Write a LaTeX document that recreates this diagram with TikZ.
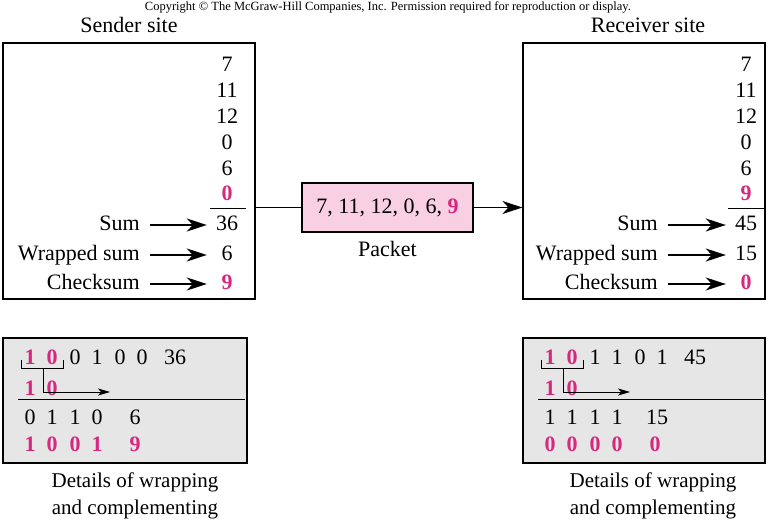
\documentclass[tikz,border=0pt]{standalone}
\usepackage{fontspec}
\setmainfont{Liberation Serif}
\usetikzlibrary{arrows.meta, positioning}
\definecolor{chkpink}{HTML}{D6287F}
\definecolor{pktfill}{HTML}{F8CFE3}
\definecolor{detailgray}{HTML}{E6E6E6}

\begin{document}
\begin{tikzpicture}[x=1pt, y=-1pt, font=\fontsize{22}{26}\selectfont,
  arr/.style={-{Stealth[length=20pt, width=13pt, inset=6pt]}, line width=1.8pt},
  site/.style={draw, line width=1.2pt, minimum width=252, minimum height=256, inner sep=0pt},
  detail/.style={draw, line width=1.2pt, fill=detailgray, minimum width=244, minimum height=125, inner sep=0pt},
  txt/.style={inner sep=0pt, text height=15.5pt, text depth=5pt},
  num/.style={txt, minimum width=36},
  lbl/.style={txt, anchor=east},
  hl/.style={text=chkpink, font=\fontsize{22}{26}\selectfont\bfseries},
  caption/.style={align=center, font=\fontsize{21}{27}\selectfont, inner sep=0pt}]
\useasboundingbox (0,0) rectangle (777,522);

% ---- titles -------------------------------------------------------------
\node[font=\fontsize{12.5}{14}\selectfont] (copy) at (388,7)
  {Copyright \textcopyright{} The McGraw-Hill Companies, Inc. Permission required for reproduction or display.};
\node[txt] (sendtitle) at (129,27) {Sender site};
\node[txt] (recvtitle) at (648,27) {Receiver site};

% ---- the two sites ------------------------------------------------------
\node[site] (sender) at (129,171) {};
\node[site, minimum width=242] (receiver) at (644,171) {};

\foreach \v/\y [count=\k] in {7/66, 11/92, 12/118, 0/144, 6/170} {
  \node[num] (s\k) at (227,\y) {\v};
  \node[num] (r\k) at (746,\y) {\v};
}
\node[num, hl] (s6) at (227,195) {0};
\node[num, hl] (r6) at (746,195) {9};
\draw[line width=1pt] (210,208) -- (246,208);
\draw[line width=1pt] (728,208) -- (765,208);

\node[num] (ssum) at (227,225) {36};
\node[num] (swrap) at (227,255) {6};
\node[num, hl] (schk) at (227,284) {9};
\node[num] (rsum) at (746,225) {45};
\node[num] (rwrap) at (746,255) {15};
\node[num, hl] (rchk) at (746,284) {0};

\foreach \n/\t/\y in {sum/Sum/225, wrap/Wrapped sum/255, chk/Checksum/284} {
  \node[lbl] (sl\n) at (140,\y) {\t};
  \node[lbl] (rl\n) at (658,\y) {\t};
  \draw[arr, shorten <=10pt, shorten >=2pt] (sl\n) -- (s\n);
  \draw[arr, shorten <=10pt, shorten >=2pt] (rl\n) -- (r\n);
}

% ---- packet -------------------------------------------------------------
\node[draw, line width=2.5pt, fill=pktfill, minimum width=171, minimum height=49, inner sep=0pt]
  (packet) at (387.5,207.5) {7, 11, 12, 0, 6, \textcolor{chkpink}{\textbf{9}}};
\node[txt, below=8pt of packet] (pktlbl) {Packet};
\draw[line width=1.5pt] (packet.west -| sender.east) -- (packet.west);
\draw[arr, line width=1.5pt] (packet.east) -- (packet.east -| receiver.west);

% ---- details of wrapping and complementing ------------------------------
\node[detail] (sdetail) at (125,400.5) {};
\node[detail, minimum width=242] (rdetail) at (644,400.5) {};

\foreach \d/\x/\st [count=\k] in {1/30/hl, 0/52/hl, 0/75/txt, 1/97/txt, 0/120/txt, 0/142/txt}
  \node[txt, \st] (sa\k) at (\x,359) {\d};
\node[txt] (sa7) at (175,359) {36};
\foreach \d/\x [count=\k] in {1/30, 0/52}
  \node[txt, hl] (sb\k) at (\x,390) {\d};
\foreach \d/\x [count=\k] in {0/30, 1/52, 1/75, 0/97, 6/135}
  \node[txt] (sc\k) at (\x,419) {\d};
\foreach \d/\x [count=\k] in {1/30, 0/52, 0/75, 1/97, 9/135}
  \node[txt, hl] (sd\k) at (\x,446) {\d};

\foreach \d/\x/\st [count=\k] in {1/550/hl, 0/572/hl, 1/595/txt, 1/617/txt, 0/640/txt, 1/662/txt}
  \node[txt, \st] (ra\k) at (\x,359) {\d};
\node[txt] (ra7) at (695,359) {45};
\foreach \d/\x [count=\k] in {1/550, 0/572}
  \node[txt, hl] (rb\k) at (\x,390) {\d};
\foreach \d/\x [count=\k] in {1/550, 1/572, 1/595, 1/617, 15/657}
  \node[txt] (rc\k) at (\x,419) {\d};
\foreach \d/\x [count=\k] in {0/550, 0/572, 0/595, 0/617, 0/655}
  \node[txt, hl] (rd\k) at (\x,446) {\d};

\foreach \o in {0, 520} {
  \draw[line width=0.8pt] (21+\o,360) |- (63+\o,368) -- (63+\o,360);
  \draw[line width=0.8pt, -{Stealth[length=12pt, width=7pt, inset=3pt]}] (43+\o,368) |- (110+\o,392);
  \draw[line width=1pt] (18+\o,399) -- (245+\o,399);
}

\node[caption] (scap) at (135,496) {Details of wrapping\\and complementing};
\node[caption] (rcap) at (653,496) {Details of wrapping\\and complementing};
\end{tikzpicture}
\end{document}
